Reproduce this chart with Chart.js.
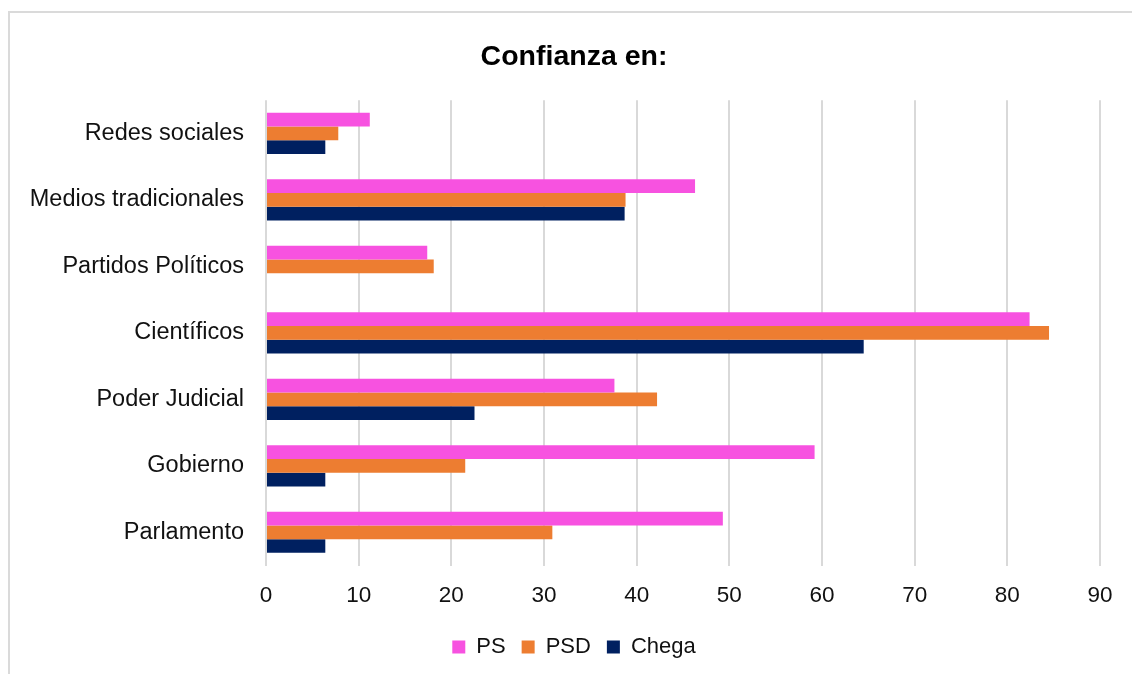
<!DOCTYPE html>
<html>
<head>
<meta charset="utf-8">
<script src="https://cdn.jsdelivr.net/npm/chart.js@4"></script>
<style>
  html, body { margin: 0; padding: 0; background: #fff; overflow: hidden; }
  #frame { position: absolute; left: 8px; top: 11px; width: 1300px; height: 900px; border: 2px solid #dadada; box-sizing: border-box; }
  #wrap { position: absolute; left: 0; top: 0; width: 1132px; height: 674px; }
</style>
</head>
<body>
<div id="frame"></div>
<div id="wrap"><canvas id="c"></canvas></div>
<script>
const categories = ['Redes sociales', 'Medios tradicionales', 'Partidos Políticos', 'Científicos', 'Poder Judicial', 'Gobierno', 'Parlamento'];
const psValues    = [11.2, 46.3, 17.4, 82.4, 37.6, 59.2, 49.3];
const psdValues   = [7.8, 38.8, 18.1, 84.5, 42.2, 21.5, 30.9];
const chegaValues = [6.4, 38.7, 0, 64.5, 22.5, 6.4, 6.4];
const seriesNames = ['PS', 'PSD', 'Chega'];
const titleText = 'Confianza en:';

const FONT = "'Liberation Sans', Arial, sans-serif";

new Chart(document.getElementById('c'), {
  type: 'bar',
  data: {
    labels: categories,
    datasets: [
      { label: seriesNames[0], data: psValues, backgroundColor: '#f752e0' },
      { label: seriesNames[1], data: psdValues, backgroundColor: '#ed7d31' },
      { label: seriesNames[2], data: chegaValues, backgroundColor: '#002060' }
    ]
  },
  options: {
    indexAxis: 'y',
    responsive: true,
    maintainAspectRatio: false,
    animation: false,
    layout: { padding: { left: 26, right: 10, top: 22, bottom: 6 } },
    datasets: { bar: { categoryPercentage: 0.62, barPercentage: 1.0, borderWidth: 0 } },
    scales: {
      x: {
        min: 0, max: 90,
        ticks: { stepSize: 10, color: '#111', font: { family: FONT, size: 22.5 }, padding: 17 },
        grid: { color: '#d9d9d9', lineWidth: 2, drawTicks: false },
        border: { display: false },
        afterFit: (s) => { s.height = 54.5; }
      },
      y: {
        ticks: { color: '#111', font: { family: FONT, size: 23.5 }, padding: 22 },
        grid: { display: false, drawTicks: false },
        border: { display: false },
        afterFit: (s) => { s.width = 240; }
      },
      ySpacer: {
        type: 'category', axis: 'y', position: 'right', display: true,
        ticks: { display: false },
        grid: { display: false, drawTicks: false },
        border: { display: false },
        afterFit: (s) => { s.width = 22; }
      }
    },
    plugins: {
      title: {
        display: true, text: titleText, color: '#000',
        font: { family: FONT, size: 28.5, weight: 'bold' },
        padding: { top: 18, bottom: 26 }
      },
      legend: {
        position: 'bottom',
        labels: { color: '#111', font: { family: FONT, size: 22 }, boxWidth: 13, boxHeight: 13, padding: 16 }
      },
      tooltip: { enabled: false }
    }
  }
});
</script>
</body>
</html>
